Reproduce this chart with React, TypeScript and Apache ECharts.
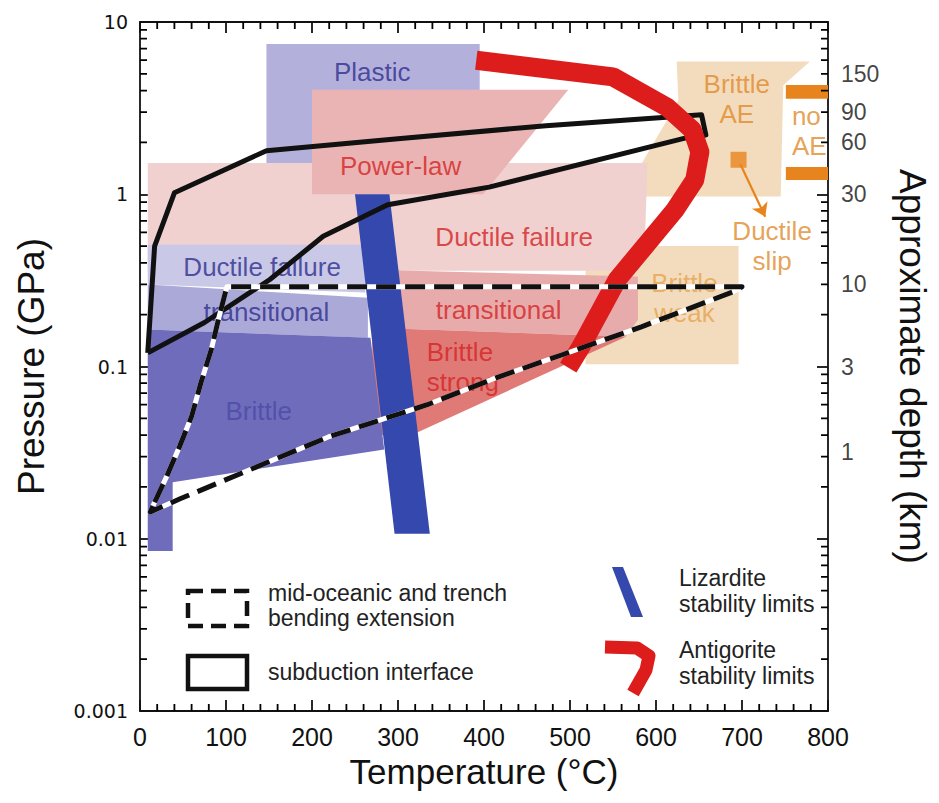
import React, { useEffect, useRef } from "react";
import * as echarts from "echarts";

const FONT = "'Liberation Sans', Arial, Helvetica, sans-serif";
const TICK_FONT = "'DejaVu Sans', Verdana, sans-serif";

// ---- axes ----
const temperatureRange = [0, 800];
const temperatureStep = 100;
const temperatureMinorStep = 20;
const pressureRange = [0.001, 10];
const pressureDecades = [0.001, 0.01, 0.1, 1];
const minorMultipliers = [2, 3, 4, 5, 6, 7, 8, 9];
const depthLabelsKm = ["150", "90", "60", "30", "10", "3", "1"];
const depthLabelPressures = [5, 3, 2, 1, 0.3, 0.1, 0.032];

// ---- regions: [temperature °C, pressure GPa] ----
const brittleAE = [[624, 5.9], [779, 5.9], [748, 4.3], [745, 0.97], [561, 0.97], [626, 3.5]];
const brittleWeak = [[518, 0.103], [696, 0.103], [696, 0.5], [518, 0.5]];
const plastic = [[147, 0.97], [395, 0.97], [395, 7.45], [147, 7.45]];
const ductileFailureRed = [[9, 0.36], [9, 1.52], [590, 1.52], [587, 0.5], [580, 0.36]];
const powerLaw = [[200, 1.0], [200, 4.04], [498, 4.04], [399, 1.0]];
const transitionalRed = [[270, 0.365], [579, 0.333], [579, 0.187], [565, 0.149], [270, 0.168]];
const brittleStrong = [[270, 0.168], [565, 0.149], [316, 0.04], [270, 0.04]];
const ductileFailureBlue = [[9, 0.509], [262, 0.509], [262, 0.269], [9, 0.299]];
const transitionalBlue = [[9, 0.299], [265, 0.251], [265, 0.147], [9, 0.164]];
const brittleBlue = [[9, 0.164], [268, 0.147], [284, 0.033], [38, 0.0213], [38, 0.0085], [9, 0.0085]];
const lizardite = [[250, 1.0], [290, 1.0], [337, 0.0107], [296, 0.0107]];
const noAEBarTop = [[751, 4.31], [800, 4.31], [800, 3.58], [751, 3.58]];
const noAEBarBottom = [[751, 1.44], [800, 1.44], [800, 1.21], [751, 1.21]];
const ductileSlipMarker = [[696, 1.585]];
const ductileSlipArrow = [[698, 1.5], [727, 0.74]];

// ---- lines ----
const subductionInterface = [
  [9, 0.12], [17, 0.5], [40, 1.02], [147, 1.79], [300, 2.1], [472, 2.5], [653, 2.89],
  [658, 2.21], [636, 2.13], [406, 1.1], [368, 1.02], [288, 0.87], [213, 0.57],
  [151, 0.32], [75, 0.18], [9, 0.12],
];
const bendingExtension = [
  [17, 0.0163], [31, 0.023], [46, 0.0343], [60, 0.0513], [71, 0.081], [83, 0.126],
  [92, 0.195], [101, 0.29], [700, 0.29], [690, 0.272], [583, 0.17], [491, 0.117],
  [414, 0.086], [334, 0.06], [219, 0.039], [46, 0.017], [12, 0.0143], [17, 0.0163],
];
const antigorite = [
  [391, 6.0], [550, 4.8], [613, 3.2], [642, 2.37], [651, 1.76], [645, 1.21],
  [622, 0.81], [555, 0.32], [513, 0.131], [498, 0.0986],
];

// ---- region labels ----
const regionLabelTexts = [
  "Plastic", "Power-law", "Ductile failure", "Ductile failure", "transitional", "transitional",
  "Brittle\nstrong", "Brittle", "Brittle\nAE", "no\nAE", "Ductile\nslip", "Brittle\nweak",
];
const regionLabelAnchors = [
  [270, 5.1], [303, 1.45], [435, 0.567], [142, 0.38], [147, 0.208], [417, 0.214],
  [374, 0.1], [138, 0.0548], [694, 3.58], [758, 2.33], [735, 0.502], [633, 0.251],
];

const C = {
  tan: "#f3dcbd",
  plastic: "#b4b0dc",
  pinkLight: "#f1d0d0",
  powerLaw: "#eab4b4",
  pinkMid: "#e8abab",
  brittleStrong: "#e07a77",
  blueLight: "#c9c8e7",
  blueMid: "#aba9d8",
  blueDark: "#6f6cbc",
  lizardite: "#3448ad",
  antigorite: "#dd1c1c",
  orange: "#e8841e",
  orangeText: "#e08a2c",
  redText: "#d42424",
  blueText: "#2e2e8e",
  ink: "#111111",
};
const labelStyles = [
  { color: C.blueText, align: "center" },
  { color: C.redText, align: "center" },
  { color: C.redText, align: "center" },
  { color: C.blueText, align: "center" },
  { color: C.blueText, align: "center" },
  { color: C.redText, align: "center" },
  { color: C.redText, align: "left", dx: -35 },
  { color: "#4a4aa6", align: "center" },
  { color: C.orangeText, align: "center" },
  { color: C.orangeText, align: "left" },
  { color: C.orangeText, align: "center" },
  { color: "#e6a34e", align: "center" },
];

function polygonSeries(id: string, pts: number[][], fill: string, z: number) {
  return {
    type: "custom",
    id,
    coordinateSystem: "cartesian2d",
    z,
    silent: true,
    data: pts,
    encode: { x: 0, y: 1 },
    renderItem: (params: any, api: any) => {
      if (params.dataIndex !== 0) return null;
      const points = pts.map((p) => api.coord(p));
      return { type: "polygon", shape: { points }, style: { fill } };
    },
  };
}

// Minor ticks of one frame side as a single "comb" polygon: a zero-width spine along
// the axis line with a thin tooth (inward) at every minor tick value.
function minorTickComb(id: string, anchor: number[], side: "left" | "right" | "bottom" | "top", values: number[]) {
  const h = 0.9;
  const len = 7;
  return {
    type: "custom",
    id,
    coordinateSystem: "cartesian2d",
    z: 13,
    silent: true,
    data: [anchor],
    encode: { x: 0, y: 1 },
    renderItem: (params: any, api: any) => {
      if (params.dataIndex !== 0) return null;
      const pts: number[][] = [];
      if (side === "left" || side === "right") {
        const xv = side === "left" ? temperatureRange[0] : temperatureRange[1];
        const d = side === "left" ? len : -len;
        pts.push(api.coord([xv, pressureRange[0]]));
        values.forEach((v) => {
          const p = api.coord([xv, v]);
          pts.push([p[0], p[1] + h], [p[0] + d, p[1] + h], [p[0] + d, p[1] - h], [p[0], p[1] - h]);
        });
        pts.push(api.coord([xv, pressureRange[1]]));
      } else {
        const yv = side === "bottom" ? pressureRange[0] : pressureRange[1];
        const d = side === "bottom" ? -len : len;
        pts.push(api.coord([temperatureRange[0], yv]));
        values.forEach((t) => {
          const p = api.coord([t, yv]);
          pts.push([p[0] - h, p[1]], [p[0] - h, p[1] + d], [p[0] + h, p[1] + d], [p[0] + h, p[1]]);
        });
        pts.push(api.coord([temperatureRange[1], yv]));
      }
      return { type: "polygon", shape: { points: pts }, style: { fill: "#000000" } };
    },
  };
}

function lineSeries(id: string, pts: number[][], color: string, width: number, z: number, type: any = "solid") {
  return {
    type: "line",
    id,
    data: pts,
    z,
    silent: true,
    symbol: "none",
    showSymbol: false,
    emphasis: { disabled: true },
    lineStyle: { color, width, type, cap: "butt", join: "round" },
  };
}

const legendGraphics: any[] = [
  {
    type: "rect",
    z: 20,
    shape: { x: 188, y: 591, width: 59, height: 35 },
    style: { fill: "none", stroke: C.ink, lineWidth: 4.5, lineDash: [15, 8] },
  },
  {
    type: "rect",
    z: 20,
    shape: { x: 188, y: 656, width: 59, height: 33 },
    style: { fill: "none", stroke: C.ink, lineWidth: 4.5 },
  },
  { type: "text", z: 20, x: 268, y: 593, style: { text: "mid-oceanic and trench", fontSize: 23, fontFamily: FONT, fill: "#222", verticalAlign: "middle" } },
  { type: "text", z: 20, x: 268, y: 618, style: { text: "bending extension", fontSize: 23, fontFamily: FONT, fill: "#222", verticalAlign: "middle" } },
  { type: "text", z: 20, x: 268, y: 672, style: { text: "subduction interface", fontSize: 23, fontFamily: FONT, fill: "#222", verticalAlign: "middle" } },
  {
    type: "polygon",
    z: 20,
    shape: { points: [[612, 567], [623, 567], [643, 617], [631, 617]] },
    style: { fill: C.lizardite },
  },
  {
    type: "polyline",
    z: 20,
    shape: { points: [[605, 647], [637, 648], [649, 656], [646, 670], [633, 693]] },
    style: { stroke: C.antigorite, lineWidth: 13, fill: "none", lineJoin: "round" },
  },
  { type: "text", z: 20, x: 679, y: 578, style: { text: "Lizardite", fontSize: 23, fontFamily: FONT, fill: "#222", verticalAlign: "middle" } },
  { type: "text", z: 20, x: 679, y: 604, style: { text: "stability limits", fontSize: 23, fontFamily: FONT, fill: "#222", verticalAlign: "middle" } },
  { type: "text", z: 20, x: 679, y: 650, style: { text: "Antigorite", fontSize: 23, fontFamily: FONT, fill: "#222", verticalAlign: "middle" } },
  { type: "text", z: 20, x: 679, y: 676, style: { text: "stability limits", fontSize: 23, fontFamily: FONT, fill: "#222", verticalAlign: "middle" } },
];

export default function App() {
  const ref = useRef<HTMLDivElement>(null);
  useEffect(() => {
    if (!ref.current) return;
    const chart = echarts.init(ref.current, undefined, { renderer: "svg" });

    const yMinorValues: number[] = [];
    pressureDecades.forEach((d) => minorMultipliers.forEach((m) => yMinorValues.push(+(d * m).toPrecision(3))));
    const xMinorValues: number[] = [];
    for (let t = temperatureRange[0]; t <= temperatureRange[1]; t += temperatureMinorStep) {
      if (t % temperatureStep !== 0) xMinorValues.push(t);
    }
    const anchor = [400, 0.1];

    const axisLine = { show: true, onZero: false, lineStyle: { color: C.ink, width: 1.8 } };
    const axisTick = { show: true, inside: true, length: 11, lineStyle: { color: C.ink, width: 1.8 } };

    const option: any = {
      animation: false,
      backgroundColor: "#ffffff",
      textStyle: { fontFamily: FONT },
      grid: { left: 140, right: 104, top: 22, bottom: 92, containLabel: false },
      xAxis: [
        {
          type: "value",
          min: temperatureRange[0],
          max: temperatureRange[1],
          interval: temperatureStep,
          position: "bottom",
          name: "Temperature (°C)",
          nameLocation: "middle",
          nameGap: 37,
          nameTextStyle: { fontSize: 35, color: C.ink, fontFamily: FONT },
          axisLine,
          axisTick,
          axisLabel: { fontSize: 25, color: C.ink, margin: 13, fontFamily: FONT },
          splitLine: { show: false },
        },
        {
          type: "value",
          min: temperatureRange[0],
          max: temperatureRange[1],
          interval: temperatureStep,
          position: "top",
          axisLine,
          axisTick,
          axisLabel: { show: false },
          splitLine: { show: false },
        },
      ],
      yAxis: [
        {
          type: "log",
          logBase: 10,
          min: pressureRange[0],
          max: pressureRange[1],
          position: "left",
          name: "Pressure (GPa)",
          nameLocation: "middle",
          nameRotate: 90,
          nameGap: 90,
          nameTextStyle: { fontSize: 37, color: C.ink, fontFamily: FONT },
          axisLine,
          axisTick,
          axisLabel: {
            fontSize: 19,
            color: C.ink,
            margin: 12,
            fontFamily: TICK_FONT,
            formatter: (v: number) => String(+v.toPrecision(3)),
          },
          splitLine: { show: false },
        },
        {
          type: "log",
          logBase: 10,
          min: pressureRange[0],
          max: pressureRange[1],
          position: "right",
          name: "Approximate depth (km)",
          nameLocation: "middle",
          nameRotate: -90,
          nameGap: 66,
          nameTextStyle: { fontSize: 37, color: C.ink, fontFamily: FONT },
          axisLine,
          axisTick,
          axisLabel: { show: false },
          splitLine: { show: false },
        },
      ],
      graphic: legendGraphics,
      series: [
        polygonSeries("brittleAE", brittleAE, C.tan, 1),
        polygonSeries("brittleWeak", brittleWeak, C.tan, 1),
        polygonSeries("plastic", plastic, C.plastic, 2),
        polygonSeries("ductileFailureRed", ductileFailureRed, C.pinkLight, 3),
        polygonSeries("powerLaw", powerLaw, C.powerLaw, 4),
        polygonSeries("transitionalRed", transitionalRed, C.pinkMid, 4),
        polygonSeries("brittleStrong", brittleStrong, C.brittleStrong, 4),
        polygonSeries("ductileFailureBlue", ductileFailureBlue, C.blueLight, 5),
        polygonSeries("transitionalBlue", transitionalBlue, C.blueMid, 5),
        polygonSeries("brittleBlue", brittleBlue, C.blueDark, 5),
        polygonSeries("noAEBarTop", noAEBarTop, C.orange, 6),
        polygonSeries("noAEBarBottom", noAEBarBottom, C.orange, 6),
        {
          type: "scatter",
          id: "regionLabels",
          z: 6,
          silent: true,
          symbolSize: 0,
          data: regionLabelAnchors.map((p, i) => ({
            value: p,
            label: {
              show: true,
              position: "inside",
              formatter: regionLabelTexts[i],
              color: labelStyles[i].color,
              align: labelStyles[i].align,
              offset: [labelStyles[i].dx || 0, 0],
              fontSize: 26,
              lineHeight: 30,
              fontFamily: FONT,
            },
          })),
        },
        polygonSeries("lizardite", lizardite, C.lizardite, 7),
        {
          type: "scatter",
          id: "ductileSlipMarker",
          z: 7,
          silent: true,
          symbol: "rect",
          symbolSize: 16,
          itemStyle: { color: C.orange },
          data: ductileSlipMarker,
        },
        {
          type: "lines",
          id: "ductileSlipArrow",
          coordinateSystem: "cartesian2d",
          z: 7,
          silent: true,
          symbol: ["none", "arrow"],
          symbolSize: 13,
          lineStyle: { color: C.orange, width: 2.2, opacity: 1 },
          data: [{ coords: ductileSlipArrow }],
        },
        lineSeries("subductionInterface", subductionInterface, C.ink, 5, 8),
        lineSeries("antigorite", antigorite, C.antigorite, 19, 9),
        lineSeries("bendingExtensionWhite", bendingExtension, "#ffffff", 5, 10),
        lineSeries("bendingExtension", bendingExtension, C.ink, 5, 11, [20, 9]),
        minorTickComb("yMinorLeft", anchor, "left", yMinorValues),
        minorTickComb("yMinorRight", anchor, "right", yMinorValues),
        minorTickComb("xMinorBottom", anchor, "bottom", xMinorValues),
        minorTickComb("xMinorTop", anchor, "top", xMinorValues),
        {
          type: "scatter",
          id: "depthLabels",
          z: 12,
          silent: true,
          clip: false,
          symbolSize: 0,
          data: depthLabelPressures.map((p, i) => ({
            value: [temperatureRange[1], p],
            label: {
              show: true,
              position: "right",
              distance: 13,
              formatter: depthLabelsKm[i],
              color: C.ink,
              fontSize: 23,
              fontFamily: FONT,
            },
          })),
        },
      ],
    };

    chart.setOption(option);
    return () => chart.dispose();
  }, []);

  return (
    <div
      ref={ref}
      style={{ position: "absolute", left: 0, top: 0, width: 939, height: 803, background: "#fff" }}
    />
  );
}
